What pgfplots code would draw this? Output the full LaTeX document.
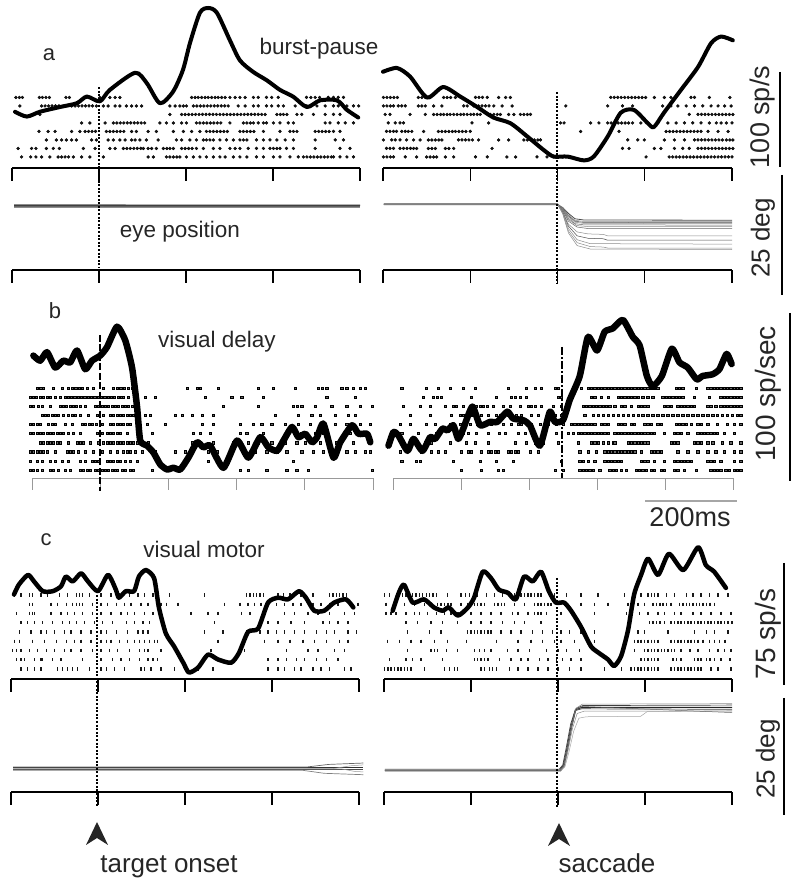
\documentclass[border=0pt]{standalone}
\usepackage{pgfplots}
\pgfplotsset{compat=1.18}
\usepackage{fontspec}
\setmainfont{Liberation Sans}
\newcommand\spk[3]{%
  \gdef\spklist{}%
  \foreach \t in {#3}{\xdef\spklist{\spklist(\t,#2)}}%
  \edef\spkcmd{\noexpand\addplot[\unexpanded{#1}] coordinates {\spklist};}%
  \spkcmd}
\pgfplotsset{
  tline/.style={scale only axis, clip=false, axis y line=none, axis x line*=bottom,
    xticklabels={}, ytick=\empty, tick align=outside, major tick length=13pt,
    axis line style={line width=1.3pt,-}, every tick/.style={black,line width=1.3pt}},
  tlineb/.style={tline, major tick length=12pt, axis line style={line width=0.9pt,black!40,-},
    every tick/.style={black!40,line width=0.9pt}},
  rate/.style={scale only axis, clip=false, hide axis},
  aras/.style={only marks, mark=*, mark size=1.45pt, mark options={fill=black!90,draw=none}},
  bras/.style={only marks, mark=square*, mark size=1.1pt, mark options={fill=black!60,draw=none}},
  cras/.style={only marks, mark=|, mark size=1.6pt, mark options={black!90,line width=1.4pt}},
  rc/.style={black, line width=#1, smooth, tension=0.45, line join=round, line cap=round},
  eye/.style={black!45, line width=0.5pt},
}
\begin{document}
\begin{tikzpicture}[x=1pt,y=1pt]
\path[use as bounding box] (0,0) rectangle (800,885);
% ================= panel a left =================
\begin{axis}[tline, at={(12pt,717pt)}, anchor=south west, width=348pt, height=83.3pt,
  xmin=-200, xmax=600, ymin=-0.3, ymax=9.5, xtick={-200,0,200,400,600}]
\spk{aras}{8}{-191,-183,-176,-137,-130,-122,-114,-76,-68,-30,2,25,37,48,213,221,228,236,244,251,259,267,274,282,290,301,313,324,336,355,366,385,397,412,477,487,497,507,527,539,550,562}
\spk{aras}{7}{-182,-132,-124,-116,-108,-100,-92,-63,-55,-47,-39,-31,-23,-15,-6,10,21,37,48,63,75,86,98,163,175,186,194,201,217,225,233,241,249,257,265,273,281,289,297,320,336,355,366,385,397,412,424,451,478,501,520,539,550,570,585,597}
\spk{aras}{6}{-136,163,190,198,206,214,222,230,238,246,254,262,270,278,286,294,302,310,318,326,334,342,350,358,366,374,382,409,417,424,432,455,466,493,520,539,554}
\spk{aras}{5}{-40,-21,14,33,41,49,57,65,73,81,89,97,105,140,155,171,190,201,224,232,240,248,256,264,272,280,301,332,340,348,355,366,378,385,401,416,435,447,520,531,550,566,585}
\spk{aras}{4}{-138,-117,-101,-63,-44,-32,-24,-16,-8,17,25,33,41,49,57,75,86,113,132,171,194,213,232,247,255,263,271,279,287,295,324,332,340,348,356,378,416,439,447,455,497,505,513,521,529,539,554}
\spk{aras}{3}{-121,-98,-86,-75,-63,-52,-17,-6,21,33,48,60,75,83,94,109,136,178,190,209,224,240,247,255,263,278,293,309,324,332,340,362,378,393,409,428,447,497,543,562}
\spk{aras}{2}{-186,-155,-145,-121,-105,-91,-36,-9,25,37,56,64,72,80,88,96,102,113,121,132,148,156,163,171,190,198,206,214,224,240,263,278,301,313,324,343,362,378,393,401,409,416,431,447,497,554,577}
\spk{aras}{1}{-178,-157,-145,-132,-113,-94,-86,-78,-70,-59,-40,-21,10,113,125,155,163,171,179,186,201,217,232,247,263,278,290,309,324,340,362,378,401,416,439,458,470,478,486,494,502,510,518,526,534,539,554,570,585}
\end{axis}
\begin{axis}[rate, at={(12pt,717pt)}, anchor=south west, width=348pt, height=168pt,
  xmin=-200, xmax=600, ymin=0, ymax=176.4]
\addplot[rc=4pt] coordinates {(-193,59)(-166,54)(-136,59)(-90,64)(-51,68)(-28,75)(2,70)(25,82)(83,100)(110,89)(140,68)(170,80)(193,103)(209,131)(232,163)(251,168)(271,163)(301,134)(324,113)(354,101)(386,92)(416,82)(446,75)(478,64)(508,71)(547,71)(570,61)(596,53)};
\end{axis}
\begin{axis}[tline, at={(12pt,615pt)}, anchor=south west, width=348pt, height=90pt,
  xmin=-200, xmax=600, ymin=0, ymax=18.45, xtick={-200,0,200,400,600}]
\addplot[eye,line width=0.9pt] coordinates {(-195,12.85)(600,12.85)};
\addplot[eye,line width=0.9pt] coordinates {(-195,13.4)(600,13.35)};
\addplot[eye,black!60,line width=0.9pt] coordinates {(-195,13.05)(600,13.05)};
\addplot[eye,black!75,line width=0.9pt] coordinates {(-195,13.22)(600,13.18)};
\end{axis}
% ================= panel a right =================
\begin{axis}[tline, at={(383pt,717pt)}, anchor=south west, width=349pt, height=83.3pt,
  xmin=-400, xmax=400, ymin=-0.3, ymax=9.5, xtick={-400,-200,0,200,400}]
\spk{aras}{8}{-399,-391,-383,-375,-367,-319,-311,-303,-292,-261,-253,-245,-234,-188,-180,-172,-161,-135,-119,-108,122,130,138,146,154,162,170,178,186,194,202,222,245,260,306,314,348,395}
\spk{aras}{7}{-399,-391,-383,-376,-365,-357,-349,-319,-311,-303,-284,-265,-215,-207,-192,-181,-173,-165,-157,-146,-127,-104,19,115,149,172,241,260,276,295,314,333,352,368,383,398}
\spk{aras}{6}{-395,-384,-338,-303,-284,-276,-268,-261,-253,-246,-238,-230,-222,-215,-207,-199,-192,-184,-177,-154,-146,-138,-131,-112,-100,-85,-77,-69,-62,302,322,330,338,346,354,362,370,378,386,394,402}
\spk{aras}{5}{-388,-372,-361,-353,-196,-158,7,15,76,95,115,123,131,139,147,155,163,172,191,207,230,253,272,291,310,329,348,364,375,387,400}
\spk{aras}{4}{-392,-384,-376,-369,-357,-349,-342,-334,-307,-273,-265,-257,-249,-241,-234,-226,-218,-210,-200,53,141,249,257,265,273,281,289,297,305,313,321,329,345,368,391}
\spk{aras}{3}{-399,-380,-372,-361,-346,-330,-315,-296,-288,-280,-272,-265,-227,-219,-211,-203,-195,-181,-135,-112,-77,-69,-61,-53,-45,-39,161,184,199,245,268,291,314,322,330,338,346,354,362,370,378,387,395,402}
\spk{aras}{2}{-392,-384,-376,-361,-353,-345,-337,-330,-323,-296,-288,-280,-257,-249,-238,-150,149,164,222,237,268,287,302,322,330,338,346,354,362,370,378,386,394,402}
\spk{aras}{1}{-399,-391,-383,-376,-349,-323,-300,-292,-284,-277,-257,-238,-188,-161,-116,-96,-47,-24,-8,11,203,256,264,272,280,288,296,304,312,320,328,336,344,352,360,368,376,384,392,400}
\end{axis}
\begin{axis}[rate, at={(383pt,717pt)}, anchor=south west, width=349pt, height=168pt,
  xmin=-400, xmax=400, ymin=0, ymax=176.4]
\addplot[rc=4pt] coordinates {(-400,101)(-368,105)(-338,96)(-299,74)(-262,85)(-223,75)(-184,64)(-147,53)(-108,47)(-69,33)(-32,19)(-9,12)(23,12)(60,8)(83,12)(115,33)(145,58)(175,61)(207,47)(221,43)(244,58)(283,82)(322,106)(352,131)(375,138)(402,134)};
\end{axis}
\begin{axis}[tline, at={(383pt,615pt)}, anchor=south west, width=349pt, height=90pt,
  xmin=-400, xmax=400, ymin=0, ymax=18.45, xtick={-400,-200,0,200,400}]
\addplot[eye,black!70,line width=0.8pt] coordinates {(-398,13.4)(0,13.4)(12,12.8)(25,11.6)(40,10.5)(60,10.25)(400,10.2)};
\addplot[eye] coordinates {(-398,13.6)(0,13.6)(12,12.7)(25,11.3)(40,10.2)(60,9.95)(400,9.9)};
\addplot[eye,black!70] coordinates {(-398,13.5)(0,13.5)(12,12.6)(25,11.1)(40,10.0)(60,9.75)(400,9.7)};
\addplot[eye] coordinates {(-398,13.5)(0,13.5)(12,12.5)(25,10.9)(40,9.8)(60,9.55)(400,9.5)};
\addplot[eye,black!60] coordinates {(-398,13.5)(0,13.5)(12,12.4)(25,10.6)(40,9.5)(60,9.25)(400,9.2)};
\addplot[eye] coordinates {(-398,13.5)(0,13.5)(12,12.3)(25,10.3)(45,9.1)(70,8.9)(400,8.9)};
\addplot[eye,black!60] coordinates {(-398,13.5)(0,13.5)(12,12.2)(25,10.0)(45,8.8)(70,8.5)(400,8.5)};
\addplot[eye] coordinates {(-398,13.5)(0,13.5)(12,12.0)(25,9.4)(45,7.8)(70,7.4)(105,7.3)(115,7.0)(400,7.0)};
\addplot[eye,black!70] coordinates {(-398,13.5)(0,13.5)(12,11.9)(25,9.0)(45,7.0)(70,6.5)(105,6.4)(115,6.1)(400,6.1)};
\addplot[eye] coordinates {(-398,13.5)(0,13.5)(12,11.8)(25,8.5)(45,6.2)(75,5.4)(400,5.3)};
\addplot[eye] coordinates {(-398,13.5)(0,13.5)(12,11.6)(25,8.0)(45,5.6)(75,4.8)(105,4.7)(115,4.5)(400,4.5)};
\addplot[eye] coordinates {(-398,13.5)(0,13.5)(12,11.5)(25,7.6)(45,5.0)(75,4.3)(400,4.2)};
\end{axis}
% ================= panel b left =================
\begin{axis}[tlineb, at={(32pt,407pt)}, anchor=south west, width=341pt, height=99pt,
  xmin=-150, xmax=600, ymin=0.12, ymax=11, xtick={-150,0,150,300,450,600}]
\spk{bras}{10}{-139,-131,-125,-103,-84,-70,-62,-54,-47,-40,-29,-15,7,29,37,45,53,62,70,191,213,220,260,348,381,429,480,488,498,531,542,557,572,583}
\spk{bras}{9}{-154,-147,-140,-132,-125,-117,-110,-99,-88,-77,-70,-63,-56,-48,-41,-34,-26,-19,-12,-5,3,10,17,24,31,39,46,51,62,99,121,231,289,311,359,498,561}
\spk{bras}{8}{-154,-147,-136,-128,-110,-88,-81,-74,-66,-59,-52,-44,-33,-11,-4,4,11,18,26,33,40,48,55,62,70,271,348,425,433,443,473,509,542,572,598}
\spk{bras}{7}{-128,-121,-114,-106,-99,-92,-81,-70,-62,-55,-44,-26,-7,7,22,29,37,44,51,59,66,73,99,110,165,180,202,224,249,385,436,465,484,517,546,561}
\spk{bras}{6}{-154,-147,-139,-132,-114,-106,-99,-77,-62,-40,-33,-25,-18,-8,4,22,29,37,44,51,59,66,103,143,224,249,308,337,355,377,407,436,462,484,517,542,572,594}
\spk{bras}{5}{-154,-147,-139,-132,-125,-117,-110,-103,-95,-88,-81,-70,-59,-44,-7,4,15,22,29,37,44,59,114,205,220,242,308,322,359,410,443,473,491,550}
\spk{bras}{4}{-132,-125,-117,-110,-103,-95,-88,-70,-51,-44,-37,-22,-4,7,15,22,29,37,44,51,59,66,73,81,106,202,249,293,326,348,377,407,432,451,484,520,557,594}
\spk{bras}{3}{-154,-147,-139,-132,-125,-117,-99,-73,-66,-59,-48,-33,-15,4,22,37,51,59,66,77,92,121,165,187,202,238,257,289,319,341,366,388,410,443,469,491,542,561,583,594}
\spk{bras}{2}{-154,-139,-128,-110,-99,-84,-70,-44,-33,-18,-11,-4,15,22,29,37,44,55,66,81,238,425}
\spk{bras}{1}{-154,-147,-139,-128,-110,-103,-92,-77,-66,-44,-37,-29,-22,-11,-4,4,11,18,26,33,37,48,55,66,73,114,308,326,366,410,432,458,598}
\end{axis}
\begin{axis}[rate, at={(32pt,407pt)}, anchor=south west, width=341pt, height=178pt,
  xmin=-150, xmax=600, ymin=0, ymax=104.7]
\addplot[rc=6.5pt, tension=0.35] coordinates {(-147,72)(-132,69)(-117,74)(-99,65)(-81,69)(-66,68)(-51,75)(-33,64)(-18,69)(0,72)(15,77)(37,89)(55,81)(70,65)(81,42)(88,22)(103,19)(117,15)(132,8)(147,5)(161,6)(176,5)(194,12)(213,21)(227,18)(242,19)(271,6)(301,22)(326,12)(352,24)(370,18)(389,16)(403,22)(422,30)(436,24)(451,26)(466,21)(477,24)(491,32)(513,12)(528,21)(554,31)(568,26)(587,26)(594,21)};
\end{axis}
% ================= panel b right =================
\begin{axis}[tlineb, at={(393pt,407pt)}, anchor=south west, width=340pt, height=99pt,
  xmin=-375, xmax=375, ymin=0.12, ymax=11, xtick={-375,-225,-75,75,225,375}]
\spk{bras}{10}{-356,-301,-275,-249,-220,-194,-121,-81,-62,-48,-18,-11,29,40,55,62,70,77,84,92,99,106,114,121,128,136,143,150,158,165,172,180,187,194,202,209,249,257,264,293,319,326,333,341,348,355,363,370,377,385,392}
\spk{bras}{9}{-308,-286,-278,-268,-202,-147,-114,-106,-95,-81,-11,-4,62,70,84,99,121,128,136,143,150,158,165,176,187,198,220,227,234,242,249,256,264,290,323,348,355,363,370,377,385,392}
\spk{bras}{8}{-352,-315,-293,-260,-242,-235,-220,-191,-183,-176,-168,-154,-132,-117,-95,-77,-70,-62,-48,-22,-4,44,51,59,66,73,81,88,95,103,114,128,136,150,165,172,180,187,223,231,238,253,260,267,275,282,289,319,326,337,348,355,363,370,377,385,392}
\spk{bras}{7}{-337,-293,-246,-227,-220,-213,-205,-198,-191,-180,-165,-147,-139,-132,-121,-103,-92,-70,-55,-33,-18,-4,48,66,77,88,99,110,121,132,143,154,165,176,187,198,209,220,231,242,253,264,275,286,297,308,319,330,341,352,363,374,385,392}
\spk{bras}{6}{-359,-337,-301,-282,-249,-227,-205,-190,-176,-158,-132,-114,-99,-92,-70,-51,-33,-15,0,18,26,33,40,48,55,62,70,84,92,99,121,128,136,150,157,180,187,194,209,216,249,257,264,271,282,297,304,319,341,363,377,392}
\spk{bras}{5}{-356,-319,-279,-238,-231,-220,-209,-191,-165,-140,-128,-99,-84,-66,-15,11,22,33,40,48,55,62,70,77,84,92,99,114,121,128,136,143,150,158,165,172,180,187,194,202,223,245,253,260,275,297,304,312,319,326,334,341,355,377}
\spk{bras}{4}{-304,-290,-249,-213,-194,-165,-106,-81,-62,-44,-11,33,62,70,77,88,99,110,114,143,150,158,165,172,180,187,238,245,253,290,297,304,319,330,352,370,392}
\spk{bras}{3}{-359,-312,-290,-275,-260,-224,-209,-202,-180,-165,-158,-150,-143,-121,-114,-106,-99,-73,-55,37,55,73,92,99,106,114,121,128,136,143,150,158,172,194,202,209,216,253,275,297,319,337,356,377,392}
\spk{bras}{2}{-356,-323,-315,-242,-183,-147,-110,-4,37,44,55,70,92,99,106,114,121,128,172,180,187,202,223,245,253,260,267,275,282,319,326,334,348,377,392}
\spk{bras}{1}{-224,-180,-143,-132,-18,0,37,44,51,59,66,81,103,110,117,128,139,161,168,176,183,194,202,216,224,245,253,268,293,326,333,341,348,359,366,377,385,392}
\end{axis}
\begin{axis}[rate, at={(393pt,407pt)}, anchor=south west, width=340pt, height=178pt,
  xmin=-375, xmax=375, ymin=0, ymax=104.7]
\addplot[rc=6.5pt, tension=0.35] coordinates {(-385,19)(-374,27)(-363,25)(-343,16)(-330,23)(-310,16)(-293,24)(-282,23)(-266,29)(-255,28)(-242,31)(-231,23)(-220,29)(-200,42)(-183,31)(-161,33)(-145,33)(-123,39)(-110,35)(-88,34)(-73,31)(-51,19)(-29,39)(-18,33)(0,34)(15,46)(37,60)(55,83)(75,75)(92,86)(110,88)(132,93)(154,83)(169,78)(185,60)(198,54)(218,60)(240,76)(257,68)(275,65)(295,58)(308,60)(330,61)(345,64)(361,73)(372,67)};
\end{axis}
% ================= panel c left =================
\begin{axis}[tline, at={(11pt,206pt)}, anchor=south west, width=348pt, height=93.2pt,
  xmin=-200, xmax=600, ymin=-0.08, ymax=10, xtick={-200,0,200,400,600}]
\spk{cras}{9}{-192,-177,-158,-150,-131,-116,-89,-70,-50,-43,-35,-20,7,30,49,72,92,107,126,164,245,341,349,357,364,372,380,414,426,441,467,494,532,540,548,555,563,571}
\spk{cras}{8}{-158,-150,-108,-93,-73,-58,-50,-43,-35,-12,7,22,42,61,76,99,115,137,145,157,184,291,326,345,360,375,410,429,448,467,494,513,532,552,578,598}
\spk{cras}{7}{-188,-158,-150,-146,-108,-85,-70,-54,-35,-12,7,30,53,68,84,107,126,214,253,276,330,349,383,429,452,483,506,532,567,590}
\spk{cras}{6}{-177,-162,-146,-127,-104,-81,-66,-50,-31,-8,11,34,65,84,103,118,268,391,414,444,475,517,532,552,575}
\spk{cras}{5}{-181,-154,-131,-119,-100,-77,-62,-39,-16,7,19,42,68,92,103,115,245,287,341,372,391,410,429,452,475,502,525,544,575,594}
\spk{cras}{4}{-192,-181,-150,-123,-96,-73,-54,-39,-16,7,19,30,49,68,84,95,107,118,130,137,276,337,383,414,441,471,498,525,555,575}
\spk{cras}{3}{-196,-188,-177,-158,-139,-119,-100,-77,-62,-39,-12,7,26,45,72,95,107,115,145,260,337,433,483,506,544,567}
\spk{cras}{2}{-188,-177,-169,-146,-131,-127,-104,-85,-35,7,34,53,72,95,115,126,137,191,391,414,433,456,475,502,525,552}
\spk{cras}{1}{-177,-162,-146,-131,-93,-81,-70,-58,-47,-20,7,19,38,61,99,107,122,145,176,230,264,391,414,429,452,467,494,513,532,567,582}
\end{axis}
\begin{axis}[rate, at={(11pt,206pt)}, anchor=south west, width=348pt, height=140pt,
  xmin=-200, xmax=600, ymin=0, ymax=86.1]
\addplot[rc=4.5pt, tension=0.4] coordinates {(-193,52)(-182,58)(-161,64)(-147,60)(-127,54)(-104,54)(-85,57)(-74,63)(-58,60)(-39,65)(-23,60)(0,54)(23,64)(41,55)(48,50)(64,54)(83,54)(94,63)(110,67)(129,62)(140,44)(156,28)(175,20)(196,10)(209,4)(230,7)(253,15)(276,12)(306,10)(324,16)(345,29)(368,31)(391,47)(414,50)(437,49)(462,54)(478,50)(497,42)(520,42)(543,47)(570,49)(587,44)};
\end{axis}
\begin{axis}[tline, at={(11pt,93pt)}, anchor=south west, width=348pt, height=110pt,
  xmin=-200, xmax=600, ymin=0, ymax=23.54, xtick={-200,0,200,400,600}]
\addplot[eye,black!80,line width=1.1pt] coordinates {(-195,5.15)(610,5.15)};
\addplot[eye,black!70,line width=1.1pt] coordinates {(-195,4.8)(610,4.8)};
\addplot[eye,black!60,line width=0.7pt] coordinates {(-195,5.35)(480,5.35)(530,5.9)(610,6.2)};
\addplot[eye,black!50,line width=0.7pt] coordinates {(-195,4.65)(470,4.65)(520,4.0)(610,3.7)};
\addplot[eye,black!40] coordinates {(-195,5.0)(540,5.0)(580,5.6)(610,5.8)};
\addplot[eye,black!40] coordinates {(-195,4.95)(560,4.95)(590,4.4)(610,4.3)};
\end{axis}
% ================= panel c right =================
\begin{axis}[tline, at={(384pt,206pt)}, anchor=south west, width=348pt, height=93.2pt,
  xmin=-400, xmax=400, ymin=-0.08, ymax=10, xtick={-400,-200,0,200,400}]
\spk{cras}{9}{-399,-388,-365,-357,-349,-342,-334,-326,-318,-311,-303,-295,-287,-280,-254,-223,-212,-204,-185,-165,-146,-127,-108,-100,-92,-85,-77,-69,-62,-54,-46,-39,-8,19,53,92,153,176,191,207,215,222,230,249,268,295,310,329,348,368,391}
\spk{cras}{8}{-395,-376,-353,-330,-307,-292,-277,-269,-261,-253,-246,-223,-208,-200,-192,-185,-177,-169,-146,-138,-130,-123,-100,-77,-54,-46,-39,-31,-23,-16,15,53,84,115,161,184,199,218,226,234,241,249,260,279,287,295,302,310,318,325,333,341,349,360}
\spk{cras}{7}{-395,-384,-372,-349,-330,-319,-300,-280,-261,-246,-238,-230,-219,-200,-177,-154,-131,-104,-92,-69,-54,-46,-39,-27,7,84,157,188,207,230,245,268,283,310,329,352,375,398}
\spk{cras}{6}{-349,-323,-292,-265,-231,-200,-177,-154,-127,-100,-77,-39,210,218,226,234,245,260,268,276,283,291,299,306,314,322,329,337,345,352,360,368,375,383,391,400}
\spk{cras}{5}{-346,-296,-269,-208,-200,-192,-185,-177,-169,-161,-154,-131,-108,-85,-58,-35,-12,7,26,53,84,184,199,253,314,341,360,391}
\spk{cras}{4}{-392,-365,-338,-315,-284,-254,-211,-142,-92,-62,-35,-8,7,38,84,176,184,191,199,207,215,222,230,260,268,276,283,291,299,306,314,322,333,348,360,371,384}
\spk{cras}{3}{-346,-292,-284,-277,-257,-231,-192,-181,-169,-154,-116,-92,-66,-27,0,19,49,176,199,207,215,222,230,238,245,253,261,268,283,303,322,348,368,383,398}
\spk{cras}{2}{-388,-349,-334,-315,-265,-192,-185,-177,-169,-161,-135,-108,-85,-69,-43,-23,-4,11,30,53,191,199,207,215,222,230,264,272,283,314,322,329,341,349,360,375,395}
\spk{cras}{1}{-399,-391,-384,-376,-368,-361,-353,-346,-338,-307,-261,-250,-238,-231,-177,-169,-158,-150,-142,-112,-92,-69,-46,-23,0,26,53,107,146,168,176,184,191,199,207,215,222,230,260,268,276,283,291,299,306,314,322,329,352,368,398}
\end{axis}
\begin{axis}[rate, at={(384pt,206pt)}, anchor=south west, width=348pt, height=140pt,
  xmin=-400, xmax=400, ymin=0, ymax=86.1]
\addplot[rc=4.5pt, tension=0.4] coordinates {(-380,42)(-366,53)(-354,58)(-334,47)(-308,49)(-285,44)(-265,42)(-251,44)(-230,39)(-207,44)(-193,50)(-173,66)(-154,62)(-136,55)(-115,53)(-97,49)(-78,63)(-58,60)(-39,66)(-21,54)(-5,47)(14,47)(30,42)(53,32)(76,20)(94,16)(115,12)(129,8)(145,14)(161,30)(175,52)(191,64)(207,74)(230,64)(255,77)(288,67)(322,81)(340,70)(359,66)(386,56)};
\end{axis}
\begin{axis}[tline, at={(384pt,93pt)}, anchor=south west, width=348pt, height=110pt,
  xmin=-400, xmax=400, ymin=0, ymax=23.54, xtick={-400,-200,0,200,400}]
\addplot[eye,black!85,line width=1.0pt] coordinates {(-398,4.7)(4,4.7)(12,5.6)(20,9.0)(30,14.0)(40,17.6)(55,18.1)(400,18.1)};
\addplot[eye,black!75,line width=0.7pt] coordinates {(-398,4.5)(6,4.5)(14,5.5)(22,9.0)(32,14.0)(42,17.9)(57,18.5)(400,18.6)};
\addplot[eye,black!75,line width=0.7pt] coordinates {(-398,4.9)(3,4.9)(11,5.8)(19,9.5)(29,14.5)(39,17.4)(54,17.8)(400,17.7)};
\addplot[eye] coordinates {(-398,4.7)(5,4.7)(13,5.6)(21,9.0)(31,14.0)(41,17.9)(56,18.8)(400,18.9)};
\addplot[eye] coordinates {(-398,4.7)(7,4.7)(15,5.5)(23,8.8)(33,13.5)(44,16.8)(60,17.3)(400,17.3)};
\addplot[eye,black!35] coordinates {(-398,4.7)(8,4.7)(16,5.4)(25,8.5)(36,13.0)(48,15.8)(65,16.1)(190,16.2)(205,17.2)(400,17.4)};
\addplot[eye,black!60] coordinates {(-398,4.6)(5,4.6)(13,5.6)(21,9.0)(31,14.0)(41,17.7)(56,18.3)(400,17.0)};
\end{axis}
% ================= event lines =================
\draw[line width=1.3pt, dash pattern=on 2pt off 1.6pt] (99,798) -- (99,617);
\draw[line width=1.3pt, dash pattern=on 2pt off 1.6pt] (557,793) -- (557,602);
\draw[line width=2.4pt, dash pattern=on 7pt off 2.5pt] (100,550) -- (100,394);
\draw[line width=2.4pt, dash pattern=on 8pt off 2pt on 2pt off 2pt] (562,538) -- (562,407);
\draw[line width=1.3pt, dash pattern=on 2pt off 1.6pt] (97,290) -- (97,78);
\draw[line width=1.3pt, dash pattern=on 2pt off 1.6pt] (557,307) -- (557,78);
% ================= scale bars =================
\draw[line width=1.5pt] (780,813) -- (780,718);
\draw[line width=1.5pt] (782,710) -- (782,590);
\draw[line width=1.5pt] (790,572) -- (790,404);
\draw[line width=1.5pt, black!35] (645,384) -- (737,384);
\draw[line width=1.5pt] (784,322) -- (784,200);
\draw[line width=1.5pt] (784,187) -- (784,70);
% ================= arrows =================
\fill[black!85] (97,63) -- (86,40) -- (97,47) -- (108,40) -- cycle;
\fill[black!85] (559,62) -- (548,39) -- (559,46) -- (570,39) -- cycle;
% ================= texts =================
\begin{scope}[every node/.style={inner sep=0pt, text=black!85}]
\node[font=\fontsize{22}{26}\selectfont] at (49,830) {a};
\node[font=\fontsize{22.5}{26}\selectfont] at (319,836) {burst-pause};
\node[font=\fontsize{22.5}{26}\selectfont] at (180,653) {eye position};
\node[font=\fontsize{22}{26}\selectfont] at (55,574) {b};
\node[font=\fontsize{22.5}{26}\selectfont] at (217,543) {visual delay};
\node[font=\fontsize{22}{26}\selectfont] at (46,345) {c};
\node[font=\fontsize{22.5}{26}\selectfont] at (204,336) {visual motor};
\node[font=\fontsize{26}{30}\selectfont] at (169,18) {target onset};
\node[font=\fontsize{26}{30}\selectfont] at (607,22) {saccade};
\node[font=\fontsize{27}{30}\selectfont] at (690,368) {200ms};
\node[font=\fontsize{27}{30}\selectfont, rotate=90] at (763,768) {100 sp/s};
\node[font=\fontsize{26}{30}\selectfont, rotate=90] at (763,647) {25 deg};
\node[font=\fontsize{28}{32}\selectfont, rotate=90] at (768,491) {100 sp/sec};
\node[font=\fontsize{28}{32}\selectfont, rotate=90] at (768,251) {75 sp/s};
\node[font=\fontsize{26}{30}\selectfont, rotate=90] at (768,126) {25 deg};
\end{scope}
\end{tikzpicture}
\end{document}
